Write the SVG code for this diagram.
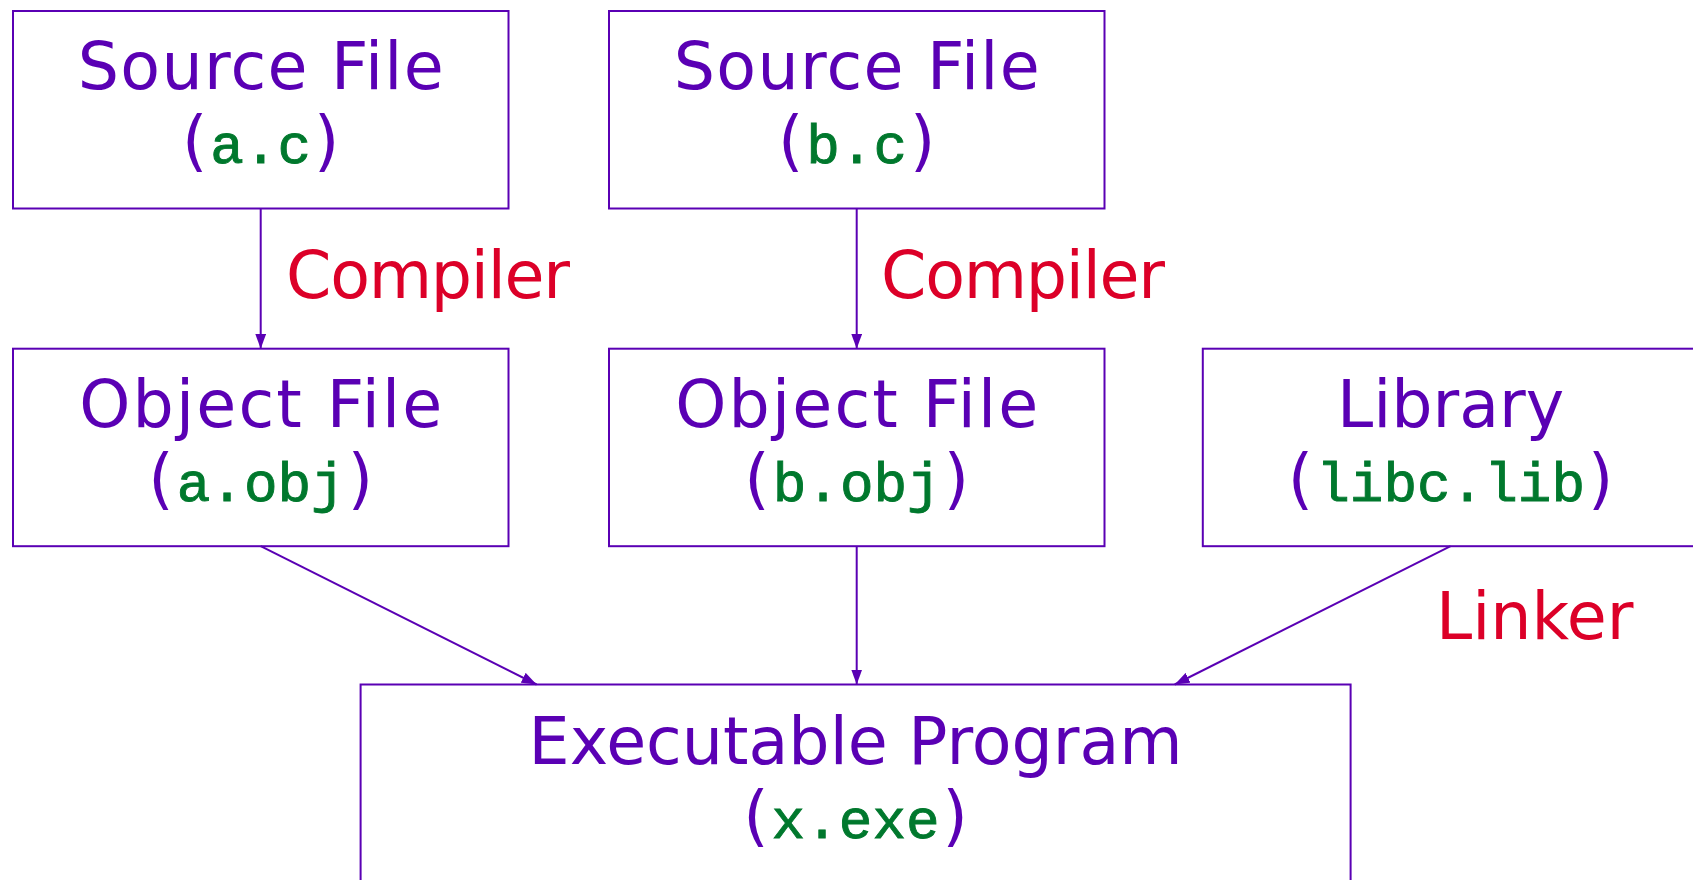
<svg xmlns="http://www.w3.org/2000/svg" width="1693" height="880" viewBox="0 0 1693 880">
<style>
.box{fill:#ffffff;stroke:#5a00b4;stroke-width:2}
.t{font-family:"DejaVu Sans","Liberation Sans",sans-serif;font-size:65px;fill:#5a00b4;text-anchor:middle}
.m{font-family:"Liberation Mono","DejaVu Sans Mono",monospace;font-size:56px;fill:#00782d;stroke:#00782d;stroke-width:0.9}
.lbl{font-family:"DejaVu Sans","Liberation Sans",sans-serif;font-size:65px;fill:#dc0028}
.c{fill:none;stroke:#5a00b4;stroke-width:2;marker-end:url(#arr)}
</style>
<defs>
<marker id="arr" markerUnits="userSpaceOnUse" markerWidth="16" markerHeight="11" refX="15" refY="5.5" orient="auto">
<path d="M0,0 L15,5.5 L0,11 z" fill="#5a00b4"/>
</marker>
</defs>
<rect width="1693" height="880" fill="#ffffff"/>
<g id="srcA">
<rect class="box" x="13" y="11" width="495.5" height="197.5"/>
<text class="t" x="260.7" y="89" textLength="366" lengthAdjust="spacing">Source File</text>
<text class="t" x="260.7" y="163">(<tspan class="m" dx="3">a.c</tspan><tspan dx="3">)</tspan></text>
</g>
<g id="srcB">
<rect class="box" x="609" y="11" width="495.5" height="197.5"/>
<text class="t" x="856.7" y="89" textLength="366" lengthAdjust="spacing">Source File</text>
<text class="t" x="856.7" y="163">(<tspan class="m" dx="3">b.c</tspan><tspan dx="3">)</tspan></text>
</g>
<g id="objA">
<rect class="box" x="13" y="348.7" width="495.5" height="197.5"/>
<text class="t" x="260.7" y="426.5" textLength="363" lengthAdjust="spacing">Object File</text>
<text class="t" x="260.7" y="501">(<tspan class="m" dx="3">a.obj</tspan><tspan dx="3">)</tspan></text>
</g>
<g id="objB">
<rect class="box" x="609" y="348.7" width="495.5" height="197.5"/>
<text class="t" x="856.7" y="426.5" textLength="363" lengthAdjust="spacing">Object File</text>
<text class="t" x="856.7" y="501">(<tspan class="m" dx="3">b.obj</tspan><tspan dx="3">)</tspan></text>
</g>
<g id="lib">
<rect class="box" x="1202.8" y="348.7" width="495.5" height="197.5"/>
<text class="t" x="1450.6" y="426.5">Library</text>
<text class="t" x="1450.6" y="501">(<tspan class="m" dx="3">libc.lib</tspan><tspan dx="3">)</tspan></text>
</g>
<g id="exe">
<rect class="box" x="360.6" y="684.5" width="990" height="250"/>
<text class="t" x="855.6" y="764">Executable Program</text>
<text class="t" x="855.6" y="838">(<tspan class="m" dx="3">x.exe</tspan><tspan dx="3">)</tspan></text>
</g>
<g id="connectors">
<line class="c" x1="260.7" y1="208.5" x2="260.7" y2="348.7"/>
<line class="c" x1="856.7" y1="208.5" x2="856.7" y2="348.7"/>
<line class="c" x1="260.7" y1="546.2" x2="536.6" y2="684.5"/>
<line class="c" x1="856.7" y1="546.2" x2="856.7" y2="684.5"/>
<line class="c" x1="1450.6" y1="546.2" x2="1174.7" y2="684.5"/>
</g>
<g id="labels">
<text class="lbl" x="286" y="298" textLength="284" lengthAdjust="spacing">Compiler</text>
<text class="lbl" x="881" y="298" textLength="284" lengthAdjust="spacing">Compiler</text>
<text class="lbl" x="1436" y="639">Linker</text>
</g>
</svg>
